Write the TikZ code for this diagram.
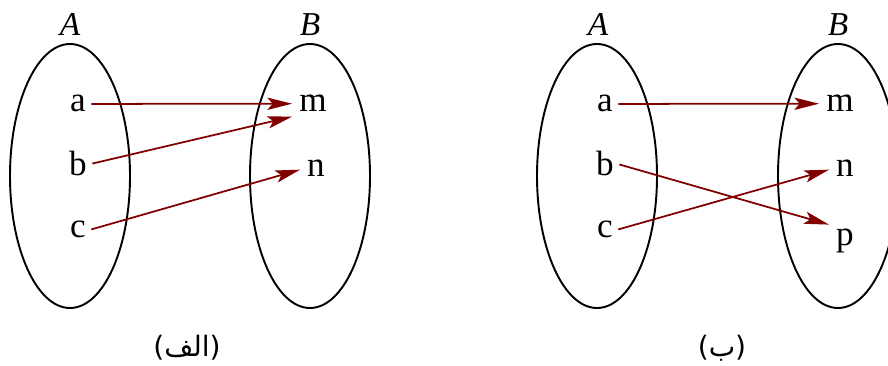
\documentclass[tikz,border=0pt]{standalone}
\usepackage{fontspec}
\setmainfont{Liberation Serif}
\newfontfamily\arabicfont[Script=Arabic]{DejaVu Sans}
\TeXXeTstate=1
\usetikzlibrary{arrows.meta}
\tikzset{
  prvek/.style={anchor=base,inner sep=2pt,font=\fontsize{20}{24}\selectfont},
  mnozina/.style={anchor=base,font=\fontsize{19}{22}\selectfont\itshape},
  sipka/.style={red!50!black,line width=1pt,-{Stealth[length=14pt,width=7pt,inset=3pt]},shorten <=1pt,shorten >=2pt},
  obal/.style={line width=1.1pt}
}
\begin{document}
\begin{tikzpicture}[x=0.02cm,y=0.02cm]
  \useasboundingbox (0,0) rectangle (888,365);
  % (alef): funkce A -> B
  \draw[obal] (70,189) ellipse (60 and 132);
  \draw[obal] (310,189) ellipse (60 and 132);
  \node[mnozina] (A1) at (70,329) {A};
  \node[mnozina] (B1) at (310,329) {B};
  \node[prvek] (a1) at (78,253) {a};
  \node[prvek] (b1) at (78,189) {b};
  \node[prvek] (c1) at (78,127) {c};
  \node[prvek] (m1) at (313,253) {m};
  \node[prvek] (n1) at (316,188) {n};
  \draw[sipka] (a1.east) -- (m1.west);
  \draw[sipka] (b1.east) -- (m1.south west);
  \draw[sipka] (c1.east) -- (n1.west);
  \node[font=\fontsize{16}{19}\arabicfont] (L1) at (187,17) {\beginR(الف)\endR};
  % (be): druha funkce, sipky se krizi
  \draw[obal] (597,189) ellipse (60 and 132);
  \draw[obal] (838,189) ellipse (60 and 132);
  \node[mnozina] (A2) at (598,329) {A};
  \node[mnozina] (B2) at (838,329) {B};
  \node[prvek] (a2) at (605,253) {a};
  \node[prvek] (b2) at (605,189) {b};
  \node[prvek] (c2) at (605,127) {c};
  \node[prvek] (m2) at (840,253) {m};
  \node[prvek] (n2) at (845,188) {n};
  \node[prvek] (p2) at (845,119) {p};
  \draw[sipka] (a2.east) -- (m2.west);
  \draw[sipka] (b2.east) -- (p2.north west);
  \draw[sipka] (c2.east) -- (n2.west);
  \node[font=\fontsize{16}{19}\arabicfont] (L2) at (722,17) {\beginR(ب)\endR};
\end{tikzpicture}
\end{document}
